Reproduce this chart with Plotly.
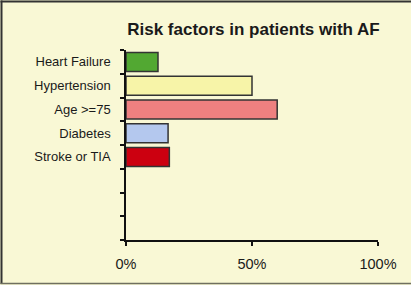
import plotly.graph_objects as go

categories = ["Heart Failure", "Hypertension", "Age >=75", "Diabetes", "Stroke or TIA"]
values = [12.7, 50, 60, 16.7, 17.2]
colors = ["#52A832", "#F7F4A8", "#EE8080", "#B4C8EE", "#CC0010"]
n_slots = 8  # 5 used rows + 3 empty rows
x_ticks = [0, 50, 100]
x_tick_labels = [f"{v}%" for v in x_ticks]

positions = list(range(len(categories)))

fig = go.Figure(go.Bar(
    x=values, y=positions, orientation="h",
    marker=dict(color=colors, line=dict(color="#333333", width=1.5)),
    width=0.8,
))

W, H = 411, 285
L, R, T, B = 126, 33, 50, 45
pw, ph = W - L - R, H - T - B

def px_x(px):
    return (px - L) / pw

def px_y(py):
    return (H - B - py) / ph

border = [
    # left
    dict(type="line", xref="paper", yref="paper",
         x0=px_x(1.5), x1=px_x(1.5), y0=px_y(284), y1=px_y(0.5),
         line=dict(color="#333333", width=2)),
    # top
    dict(type="line", xref="paper", yref="paper",
         x0=px_x(0.5), x1=px_x(W), y0=px_y(1.5), y1=px_y(1.5),
         line=dict(color="#333333", width=2)),
    # bottom
    dict(type="line", xref="paper", yref="paper",
         x0=px_x(0.5), x1=px_x(W), y0=px_y(283.5), y1=px_y(283.5),
         line=dict(color="#6f6f60", width=1.5)),
]

fig.update_layout(
    width=W, height=H,
    margin=dict(l=L, r=R, t=T, b=B, autoexpand=False),
    paper_bgcolor="#F9F8D5",
    plot_bgcolor="#F9F8D5",
    showlegend=False,
    font=dict(family="Liberation Sans, Arial, sans-serif", color="#1a1a1a"),
    title=dict(
        text="<b>Risk factors in patients with AF</b>",
        font=dict(size=17, color="#1a1a1a"),
        x=253.5 / W, xref="container", xanchor="center",
        y=1 - 29 / H, yref="container", yanchor="middle",
    ),
    xaxis=dict(
        range=[0, 100], tickmode="array", tickvals=x_ticks, ticktext=x_tick_labels,
        showgrid=False, zeroline=False, automargin=False,
        showline=True, linecolor="#111111", linewidth=1.5,
        ticks="outside", ticklen=4, tickwidth=1.5, tickcolor="#111111",
        tickfont=dict(size=14.5), ticklabelstandoff=6,
    ),
    yaxis=dict(
        range=[n_slots - 0.5, -0.5],
        tickmode="array", tickvals=positions, ticktext=categories,
        showgrid=False, zeroline=False, automargin=False,
        showline=True, linecolor="#111111", linewidth=1.5,
        ticks="", tickfont=dict(size=13), ticklabelstandoff=11,
        minor=dict(ticks="outside", tickvals=[i - 0.5 for i in range(n_slots + 1)],
                   ticklen=4, tickwidth=1.5, tickcolor="#111111", showgrid=False),
    ),
    shapes=border,
)

fig.write_html(
    "out.html",
    config={"displayModeBar": False},
    post_script="document.body.style.margin='0';document.body.style.overflow='hidden';",
)
